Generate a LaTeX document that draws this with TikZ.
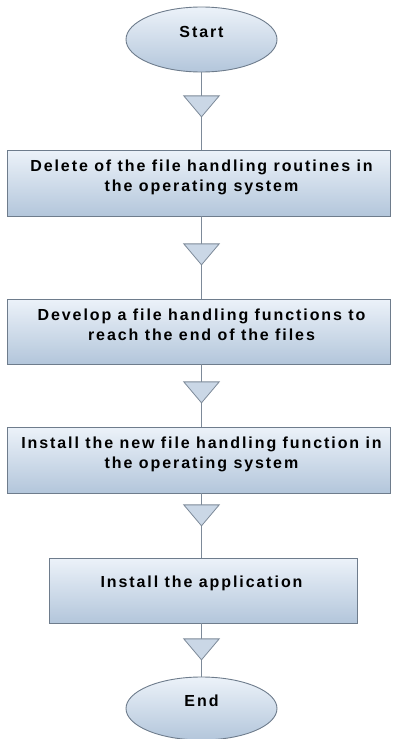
\documentclass[tikz,border=0pt]{standalone}
\usepackage{fontspec}
\setmainfont{Liberation Sans}[LetterSpace=12]
\usetikzlibrary{shapes.geometric, arrows.meta, decorations.markings}

\definecolor{boxtop}{HTML}{ECF2F9}
\definecolor{boxbottom}{HTML}{B3C6DB}
\definecolor{boxline}{HTML}{6E7C8C}
\definecolor{flowline}{HTML}{7D8A99}
\definecolor{tipfill}{HTML}{CAD7E6}

\begin{document}
\begin{tikzpicture}[
    x=1pt, y=1pt,
    terminal/.style={ellipse, draw=boxline, line width=0.9pt, top color=boxtop, bottom color=boxbottom, minimum width=151, minimum height=65, inner sep=0},
    stepbox/.style={rectangle, draw=boxline, line width=0.9pt, top color=boxtop, bottom color=boxbottom, minimum width=383, minimum height=66, inner sep=0},
    steptext/.style={anchor=north, inner sep=0, align=center, font=\fontsize{16}{20}\selectfont\bfseries},
    flow/.style={draw=flowline, line width=1.6pt, postaction={decorate},
        decoration={markings, mark=at position #1 with {\arrow{Triangle[width=37pt, length=22pt, line width=0.8pt, fill=tipfill]}}}}
]
\useasboundingbox (0,0) rectangle (393,-739);

% Start / End
\node[terminal] at (201.5,-39.5) (start) {};
\node[steptext] at (201.5,-26) (start-text) {Start};
\node[terminal, minimum height=63] at (201.5,-708.5) (stop) {};
\node[steptext] at (201.5,-695) (stop-text) {End};

% Steps
\node[stepbox] at (198.75,-183) (del) {};
\node[steptext] at (201.5,-160) (del-text) {Delete of the file handling routines in\\the operating system};

\node[stepbox, minimum height=65] at (198.5,-331.5) (dev) {};
\node[steptext] at (201.5,-309) (dev-text) {Develop a file handling functions to\\reach the end of the files};

\node[stepbox] at (198.5,-460) (inst) {};
\node[steptext] at (201.5,-437) (inst-text) {Install the new file handling function in\\the operating system};

\node[stepbox, minimum width=308, minimum height=65] at (203,-590.5) (app) {};
\node[steptext] at (201.5,-576) (app-text) {Install the application};

% Connectors
\draw[flow=45pt] (start) -- (del.north -| start);
\draw[flow=49pt] (del.south -| start) -- (dev.north -| start);
\draw[flow=39pt] (dev.south -| start) -- (inst.north -| start);
\draw[flow=33pt] (inst.south -| start) -- (app.north -| start);
\draw[flow=37pt] (app.south -| start) -- (stop);

\end{tikzpicture}
\end{document}
